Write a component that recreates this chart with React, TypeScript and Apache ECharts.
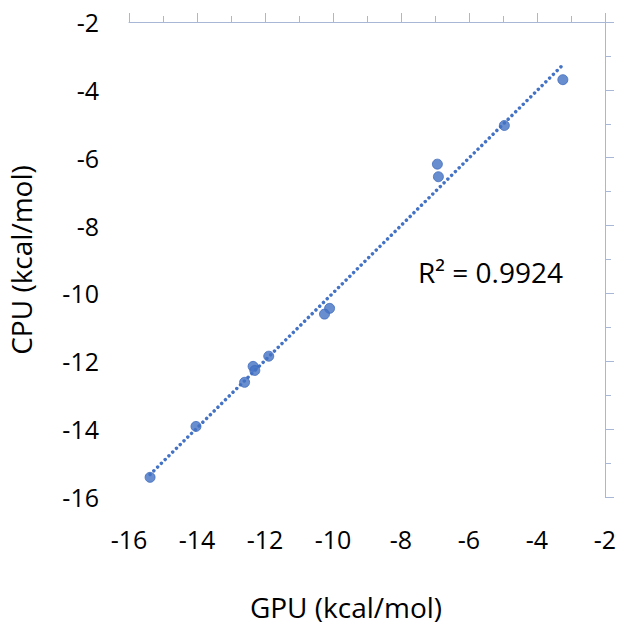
import React, { useEffect, useRef } from "react";
import * as echarts from "echarts";

// GPU vs CPU binding energies (kcal/mol)
const gpuValues: number[] = [-3.24, -4.96, -6.93, -6.9, -10.1, -10.25, -11.89, -12.35, -12.3, -12.6, -14.03, -15.38];
const cpuValues: number[] = [-3.7, -5.05, -6.19, -6.56, -10.44, -10.61, -11.85, -12.15, -12.27, -12.62, -13.92, -15.42];
const axisMin = -16;
const axisMax = -2;
const axisInterval = 2;
const r2Label = "R² = 0.9924";
const xTitle = "GPU (kcal/mol)";
const yTitle = "CPU (kcal/mol)";

const FONT = "'Open Sans', 'Noto Sans', sans-serif";
const BLUE = "#4472C4";
const AXIS = "#A9B7D6";

function regression(xs: number[], ys: number[]) {
  const n = xs.length;
  const mx = xs.reduce((a, b) => a + b, 0) / n;
  const my = ys.reduce((a, b) => a + b, 0) / n;
  let sxy = 0;
  let sxx = 0;
  for (let i = 0; i < n; i++) {
    sxy += (xs[i] - mx) * (ys[i] - my);
    sxx += (xs[i] - mx) * (xs[i] - mx);
  }
  const slope = sxy / sxx;
  return { slope, intercept: my - slope * mx };
}

export default function App() {
  const ref = useRef<HTMLDivElement>(null);
  useEffect(() => {
    if (!ref.current) return;
    const chart = echarts.init(ref.current, undefined, { renderer: "svg" });
    const { slope, intercept } = regression(gpuValues, cpuValues);
    const xLo = Math.min(...gpuValues);
    const xHi = Math.max(...gpuValues);
    const trend = [
      [xLo, slope * xLo + intercept],
      [xHi, slope * xHi + intercept],
    ];
    const points = gpuValues.map((x, i) => [x, cpuValues[i]]);

    const lineAxisCommon = {
      type: "value" as const,
      min: axisMin,
      max: axisMax,
      interval: axisInterval,
      axisLine: { show: true, onZero: false, lineStyle: { color: AXIS, width: 1 } },
      axisTick: { show: true, inside: false, length: 9, lineStyle: { color: AXIS, width: 1 } },
      minorTick: { show: true, splitNumber: 2, length: 6, lineStyle: { color: AXIS, width: 1 } },
      axisLabel: { show: false },
      splitLine: { show: false },
    };
    const labelAxisCommon = {
      type: "value" as const,
      min: axisMin,
      max: axisMax,
      interval: axisInterval,
      axisLine: { show: false, onZero: false },
      axisTick: { show: false },
      splitLine: { show: false },
    };

    chart.setOption({
      animation: false,
      backgroundColor: "#ffffff",
      grid: { left: 129, right: 21, top: 22, bottom: 135, containLabel: false },
      xAxis: [
        { ...lineAxisCommon, position: "top" },
        {
          ...labelAxisCommon,
          position: "bottom",
          axisLabel: { show: true, margin: 29, fontSize: 25, color: "#000", fontFamily: FONT },
        },
      ],
      yAxis: [
        { ...lineAxisCommon, position: "right" },
        {
          ...labelAxisCommon,
          position: "left",
          axisLabel: { show: true, margin: 30, fontSize: 25, color: "#000", fontFamily: FONT },
        },
      ],
      graphic: [
        {
          type: "text",
          left: 418,
          top: 258,
          style: { text: r2Label, fontSize: 28, fill: "#000", fontFamily: FONT },
        },
        {
          type: "text",
          x: 346,
          y: 607,
          style: { text: xTitle, fontSize: 28, fill: "#000", fontFamily: FONT, align: "center", verticalAlign: "middle" },
        },
        {
          type: "text",
          x: 21,
          y: 260,
          rotation: Math.PI / 2,
          style: { text: yTitle, fontSize: 28, fill: "#000", fontFamily: FONT, align: "center", verticalAlign: "middle" },
        },
      ],
      series: [
        {
          type: "line",
          xAxisIndex: 0,
          yAxisIndex: 0,
          data: trend,
          symbol: "none",
          silent: true,
          lineStyle: { color: BLUE, width: 3.5, type: [0.01, 5.3], cap: "round" },
          z: 2,
        },
        {
          type: "scatter",
          xAxisIndex: 0,
          yAxisIndex: 0,
          data: points,
          symbol: "circle",
          symbolSize: 10,
          itemStyle: { color: BLUE, borderColor: "#3f6bbd", borderWidth: 1 },
          z: 3,
        },
      ],
    });
    return () => chart.dispose();
  }, []);
  return (
    <div
      ref={ref}
      style={{ position: "fixed", left: 0, top: 0, width: 626, height: 632, background: "#fff" }}
    />
  );
}
